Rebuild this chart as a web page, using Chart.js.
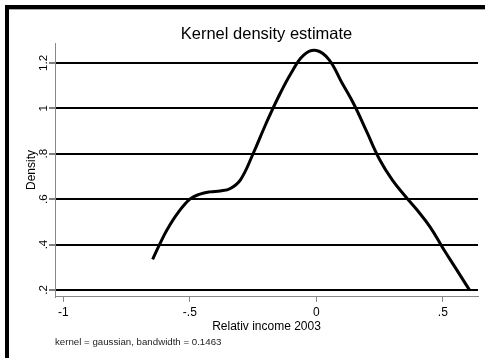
<!DOCTYPE html>
<html>
<head>
<meta charset="utf-8">
<title>Kernel density estimate</title>
<script src="https://cdn.jsdelivr.net/npm/chart.js@4/dist/chart.umd.min.js"></script>
<style>
  html, body { margin: 0; padding: 0; background: #fff; }
  canvas { display: block; }
</style>
</head>
<body>
<canvas id="chartKde" width="485" height="358"></canvas>
<script>
// ===== Данные =====
const incomeX = [-0.647, -0.62, -0.59, -0.55, -0.50, -0.46, -0.42, -0.38, -0.34, -0.30,
                 -0.25, -0.20, -0.15, -0.10, -0.05, 0.0, 0.05, 0.10, 0.15, 0.20,
                 0.25, 0.30, 0.35, 0.40, 0.45, 0.50, 0.55, 0.605];
const densityY = [0.335, 0.40, 0.465, 0.535, 0.60, 0.622, 0.632, 0.636, 0.647, 0.685,
                  0.80, 0.93, 1.05, 1.155, 1.235, 1.255, 1.215, 1.115, 1.015, 0.895,
                  0.775, 0.685, 0.615, 0.55, 0.477, 0.385, 0.297, 0.20];

const xTickValues = [-1, -0.5, 0, 0.5];
const xTickLabels = ['-1', '-.5', '0', '.5'];
const yTickValues = [0.2, 0.4, 0.6, 0.8, 1, 1.2];
const yTickLabels = ['.2', '.4', '.6', '.8', '1', '1.2'];

const FONT = '"Liberation Sans", Arial, sans-serif';

// ===== Рамка вокруг графика (как в Stata) =====
const framePlugin = {
    id: 'frame',
    beforeDraw(chart) {
        const ctx = chart.ctx;
        ctx.save();
        ctx.fillStyle = '#fff';
        ctx.fillRect(0, 0, chart.width, chart.height);
        ctx.fillStyle = '#000';
        ctx.fillRect(5, 5, chart.width - 5, 4);   // верхняя линия
        ctx.fillRect(5, 5, 4, chart.height - 5);  // левая линия
        ctx.fillStyle = '#aaa';
        ctx.fillRect(9, 9, chart.width - 9, 1);
        ctx.restore();
    }
};

// ===== Повёрнутые подписи оси Y =====
const yLabelsPlugin = {
    id: 'yLabels',
    afterDraw(chart) {
        const ctx = chart.ctx;
        const scale = chart.scales.y;
        ctx.save();
        ctx.fillStyle = '#000';
        ctx.font = '11.5px ' + FONT;
        ctx.textAlign = 'center';
        ctx.textBaseline = 'middle';
        scale.ticks.forEach(t => {
            const label = yTickLabels[yTickValues.indexOf(t.value)];
            const py = scale.getPixelForValue(t.value);
            ctx.save();
            ctx.translate(44, py);
            ctx.rotate(-Math.PI / 2);
            ctx.fillText(label, 0, 0);
            ctx.restore();
        });
        ctx.restore();
    }
};

const ctx = document.getElementById('chartKde').getContext('2d');
new Chart(ctx, {
    type: 'scatter',
    data: {
        datasets: [{
            data: incomeX.map((x, i) => ({ x: x, y: densityY[i] })),
            showLine: true,
            borderColor: '#000',
            borderWidth: 3,
            pointRadius: 0,
            fill: false,
            tension: 0.4
        }]
    },
    options: {
        responsive: false,
        devicePixelRatio: 1,
        animation: false,
        layout: { padding: { left: 10, right: 7, top: 0, bottom: 0 } },
        plugins: {
            legend: { display: false },
            tooltip: { enabled: false },
            title: {
                display: true,
                text: 'Kernel density estimate',
                color: '#000',
                fullSize: false,
                font: { family: FONT, size: 16.5, weight: 'normal', lineHeight: 1 },
                padding: { top: 25.75, bottom: 0.75 }
            },
            subtitle: {
                display: true,
                position: 'bottom',
                align: 'start',
                fullSize: false,
                text: 'kernel = gaussian, bandwidth = 0.1463',
                color: '#222',
                font: { family: FONT, size: 9.7, weight: 'normal', lineHeight: 1.2 },
                padding: { top: 2.2, bottom: 10.2 }
            }
        },
        scales: {
            x: {
                type: 'linear',
                min: -1.033,
                max: 0.639,
                afterBuildTicks: s => { s.ticks = xTickValues.map(v => ({ value: v })); },
                afterFit: s => { s.height = 37; },
                ticks: {
                    color: '#000',
                    font: { family: FONT, size: 12 },
                    padding: 4,
                    maxRotation: 0,
                    autoSkip: false,
                    callback: v => xTickLabels[xTickValues.indexOf(v)]
                },
                grid: {
                    drawOnChartArea: false,
                    drawTicks: true,
                    tickLength: 5,
                    color: '#888',
                    lineWidth: 1
                },
                border: { color: '#888', width: 1 },
                title: {
                    display: true,
                    text: 'Relativ income 2003',
                    color: '#000',
                    font: { family: FONT, size: 12 },
                    padding: { top: 0, bottom: 0 }
                }
            },
            y: {
                type: 'linear',
                min: 0.169,
                max: 1.288,
                afterBuildTicks: s => { s.ticks = yTickValues.map(v => ({ value: v })); },
                afterFit: s => { s.width = 45; },
                ticks: { display: false },
                grid: {
                    color: '#000',
                    lineWidth: 2,
                    drawTicks: true,
                    tickLength: 6,
                    tickWidth: 1,
                    tickColor: '#000'
                },
                border: { color: '#888', width: 1 },
                title: {
                    display: true,
                    text: 'Density',
                    color: '#000',
                    font: { family: FONT, size: 12 },
                    padding: { top: 14.3, bottom: 0 }
                }
            }
        }
    },
    plugins: [framePlugin, yLabelsPlugin]
});
</script>
</body>
</html>
